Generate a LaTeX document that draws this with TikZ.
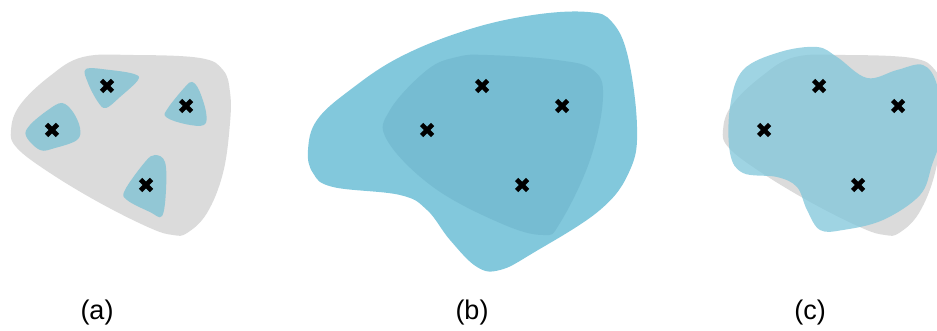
\documentclass[tikz,border=0pt]{standalone}
\usepackage{fontspec}
\setmainfont{Liberation Sans}
\definecolor{blobgray}{HTML}{DBDBDB}
\definecolor{smallblue}{HTML}{92C7D5}
\definecolor{outerblue}{HTML}{82C8DC}
\definecolor{innerblue}{HTML}{76BCD2}
\definecolor{cblue}{HTML}{7FC6DA}
\tikzset{
  xmark/.style={line width=4.6pt, black},
  lab/.style={font=\fontsize{27}{30}\selectfont, inner sep=0pt},
}
\newcommand{\xmk}[2]{\draw[xmark] (#1-5.5,#2-5.5) -- (#1+5.5,#2+5.5) (#1-5.5,#2+5.5) -- (#1+5.5,#2-5.5);}
\begin{document}
\begin{tikzpicture}[x=1pt,y=-1pt]
\useasboundingbox (0,0) rectangle (937,331);
% ---------- (a) ----------
\fill[blobgray] plot[smooth cycle, tension=0.65] coordinates {(83,57) (133,55) (200,58) (223,70) (230,92) (230,123) (223,173) (207,213) (187,233) (173,235) (150,228) (100,203) (50,173) (17,148) (11,130) (20,105) (50,76)};
\fill[smallblue] plot[smooth cycle, tension=0.6] coordinates {(86,69) (110,70) (134,74) (138,80) (120,97) (106,108) (98,102) (88,83)};
\fill[smallblue] plot[smooth cycle, tension=0.6] coordinates {(192,82) (199,90) (206,112) (204,125) (185,124) (166,117) (168,108) (185,87)};
\fill[smallblue] plot[smooth cycle, tension=0.6] coordinates {(62,103) (73,112) (80,128) (77,140) (55,148) (40,150) (26,136) (30,125) (48,110)};
\fill[smallblue] plot[smooth cycle, tension=0.6] coordinates {(155,155) (165,162) (166,190) (162,216) (150,212) (127,200) (125,190) (145,162)};
\xmk{107}{86}\xmk{186}{106}\xmk{52}{130}\xmk{146}{185}
\node[lab] (la) at (97,313) {(a)};
% ---------- (b) ----------
\fill[outerblue] plot[smooth cycle, tension=0.65] coordinates {(588,12) (533,15) (467,30) (400,57) (350,90) (317,120) (308,150) (313,173) (333,187) (400,195) (427,210) (450,240) (477,267) (500,270) (533,253) (600,210) (630,170) (637,127) (628,57) (612,22)};
\fill[innerblue] plot[smooth cycle, tension=0.65] coordinates {(487,55) (557,60) (593,70) (603,97) (590,160) (560,223) (543,235) (500,223) (433,187) (387,140) (390,110) (427,70) (457,57)};
\xmk{482}{86}\xmk{562}{106}\xmk{427}{130}\xmk{522}{185}
\node[lab] (lb) at (472,313) {(b)};
% ---------- (c) ----------
\begin{scope}[xshift=712pt]
\fill[blobgray] plot[smooth cycle, tension=0.65] coordinates {(83,57) (133,55) (200,58) (223,70) (230,92) (230,123) (223,173) (207,213) (187,233) (173,235) (150,228) (100,203) (50,173) (17,148) (11,130) (20,105) (50,76)};
\end{scope}
\fill[cblue, opacity=0.75] plot[smooth cycle, tension=0.6] coordinates {(743,70) (780,52) (817,47) (837,57) (867,78) (897,70) (923,65) (937,85) (942,130) (932,165) (920,195) (883,220) (843,230) (820,230) (807,210) (797,187) (777,177) (743,173) (730,153) (730,107)};
\xmk{819}{86}\xmk{898}{106}\xmk{764}{130}\xmk{858}{185}
\node[lab] (lc) at (810,313) {(c)};
\end{tikzpicture}
\end{document}
